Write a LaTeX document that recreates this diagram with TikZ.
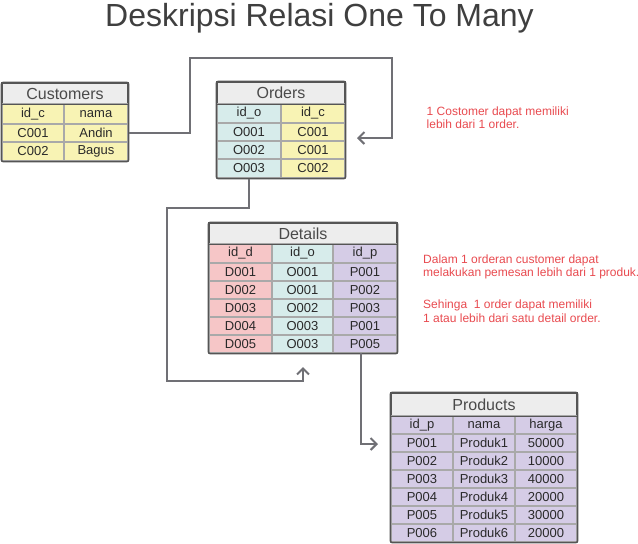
\documentclass[tikz,border=0pt]{standalone}
\usepackage{fontspec}
\setmainfont{Liberation Sans}
\usetikzlibrary{arrows.meta,calc}
\definecolor{yel}{HTML}{F8F3B4}
\definecolor{blu}{HTML}{D7ECEB}
\definecolor{pnk}{HTML}{F6C6C7}
\definecolor{pur}{HTML}{D5CCE6}
\definecolor{ttl}{HTML}{EDEDED}
\definecolor{inln}{HTML}{A9A9A9}
\definecolor{outln}{HTML}{555555}
\definecolor{conn}{HTML}{707075}
\definecolor{note}{HTML}{E84A4F}
\definecolor{txt}{HTML}{2A2A2A}
\newcommand\tcell[7]{%
  \pgfmathsetmacro\tcX{(#2+#4)/2}\pgfmathsetmacro\tcY{(#3+#5)/2}%
  \pgfmathsetmacro\tcW{#4-#2}\pgfmathsetmacro\tcH{#5-#3}%
  \node[cell,fill=#6,minimum width=\tcW pt,minimum height=\tcH pt] (#1) at (\tcX,\tcY) {#7};}
\newcommand\ttitle[6]{%
  \pgfmathsetmacro\tcX{(#2+#4)/2}\pgfmathsetmacro\tcY{(#3+#5)/2}%
  \pgfmathsetmacro\tcW{#4-#2}\pgfmathsetmacro\tcH{#5-#3}%
  \node[ttlcell,minimum width=\tcW pt,minimum height=\tcH pt] (#1) at (\tcX,\tcY) {#6};}
\tikzset{
  cell/.style={draw=inln,line width=1.3pt,inner sep=0pt,text=txt,font=\fontsize{13}{14}\selectfont},
  ttlcell/.style={draw=outln,fill=ttl,line width=1.3pt,inner sep=0pt,text=txt!85,font=\fontsize{16}{18}\selectfont},
  outer/.style={draw=outln,line width=1.5pt,rounded corners=2pt},
  conn/.style={draw=conn,line width=2pt,-{Straight Barb[length=6pt,width=12pt]}},
  notetxt/.style={anchor=base west,inner sep=0pt,text=note,font=\fontsize{12}{13}\selectfont},
}
\begin{document}
\begin{tikzpicture}[x=1pt,y=-1pt]
\useasboundingbox (0,0) rectangle (638,544);
% main title
\node[anchor=base,inner sep=0pt,text=txt!90,font=\fontsize{32}{36}\selectfont] (maintitle) at (319.5,26.5) {Deskripsi Relasi One To Many};
% Customers
\ttitle{cT}{2}{83}{128}{104}{Customers}
\tcell{c01}{2}{104}{64}{124}{yel}{id\_c}
\tcell{c02}{64}{104}{128}{124}{yel}{nama}
\tcell{c11}{2}{124}{64}{142}{yel}{C001}
\tcell{c12}{64}{124}{128}{142}{yel}{Andin}
\tcell{c21}{2}{142}{64}{161}{yel}{C002}
\tcell{c22}{64}{142}{128}{161}{yel}{Bagus}
\draw[outer] (cT.north west) rectangle (c22.south east);
\draw[draw=outln,line width=1.5pt] (cT.south west) -- (cT.south east);
% Orders
\ttitle{oT}{217}{82}{345}{104}{Orders}
\tcell{o01}{217}{104}{281}{123}{blu}{id\_o}
\tcell{o02}{281}{104}{345}{123}{yel}{id\_c}
\tcell{o11}{217}{123}{281}{141}{blu}{O001}
\tcell{o12}{281}{123}{345}{141}{yel}{C001}
\tcell{o21}{217}{141}{281}{159}{blu}{O002}
\tcell{o22}{281}{141}{345}{159}{yel}{C001}
\tcell{o31}{217}{159}{281}{178}{blu}{O003}
\tcell{o32}{281}{159}{345}{178}{yel}{C002}
\draw[outer] (oT.north west) rectangle (o32.south east);
\draw[draw=outln,line width=1.5pt] (oT.south west) -- (oT.south east);
% Details
\ttitle{dT}{209}{223}{397}{244}{Details}
\tcell{d01}{209}{244}{272}{263}{pnk}{id\_d}
\tcell{d02}{272}{244}{333}{263}{blu}{id\_o}
\tcell{d03}{333}{244}{397}{263}{pur}{id\_p}
\tcell{d11}{209}{263}{272}{281}{pnk}{D001}
\tcell{d12}{272}{263}{333}{281}{blu}{O001}
\tcell{d13}{333}{263}{397}{281}{pur}{P001}
\tcell{d21}{209}{281}{272}{299}{pnk}{D002}
\tcell{d22}{272}{281}{333}{299}{blu}{O001}
\tcell{d23}{333}{281}{397}{299}{pur}{P002}
\tcell{d31}{209}{299}{272}{317}{pnk}{D003}
\tcell{d32}{272}{299}{333}{317}{blu}{O002}
\tcell{d33}{333}{299}{397}{317}{pur}{P003}
\tcell{d41}{209}{317}{272}{335}{pnk}{D004}
\tcell{d42}{272}{317}{333}{335}{blu}{O003}
\tcell{d43}{333}{317}{397}{335}{pur}{P001}
\tcell{d51}{209}{335}{272}{353}{pnk}{D005}
\tcell{d52}{272}{335}{333}{353}{blu}{O003}
\tcell{d53}{333}{335}{397}{353}{pur}{P005}
\draw[outer] (dT.north west) rectangle (d53.south east);
\draw[draw=outln,line width=1.5pt] (dT.south west) -- (dT.south east);
% Products
\ttitle{pT}{391}{393}{577}{416}{Products}
\tcell{p01}{391}{416}{453}{434}{pur}{id\_p}
\tcell{p02}{453}{416}{515}{434}{pur}{nama}
\tcell{p03}{515}{416}{577}{434}{pur}{harga}
\tcell{p11}{391}{434}{453}{452}{pur}{P001}
\tcell{p12}{453}{434}{515}{452}{pur}{Produk1}
\tcell{p13}{515}{434}{577}{452}{pur}{50000}
\tcell{p21}{391}{452}{453}{470}{pur}{P002}
\tcell{p22}{453}{452}{515}{470}{pur}{Produk2}
\tcell{p23}{515}{452}{577}{470}{pur}{10000}
\tcell{p31}{391}{470}{453}{488}{pur}{P003}
\tcell{p32}{453}{470}{515}{488}{pur}{Produk3}
\tcell{p33}{515}{470}{577}{488}{pur}{40000}
\tcell{p41}{391}{488}{453}{506}{pur}{P004}
\tcell{p42}{453}{488}{515}{506}{pur}{Produk4}
\tcell{p43}{515}{488}{577}{506}{pur}{20000}
\tcell{p51}{391}{506}{453}{524}{pur}{P005}
\tcell{p52}{453}{506}{515}{524}{pur}{Produk5}
\tcell{p53}{515}{506}{577}{524}{pur}{30000}
\tcell{p61}{391}{524}{453}{542}{pur}{P006}
\tcell{p62}{453}{524}{515}{542}{pur}{Produk6}
\tcell{p63}{515}{524}{577}{542}{pur}{20000}
\draw[outer] (pT.north west) rectangle (p63.south east);
\draw[draw=outln,line width=1.5pt] (pT.south west) -- (pT.south east);
% connector end points
\coordinate (tipO) at (357,138);
\coordinate (tipD) at (303,367);
\coordinate (tipP) at (378,444);
% connectors
\draw[conn] (c12.east) -| (190,58) -| (392,138) -- (tipO);
\draw[conn] (o31.south) -- (249,208) -| (167,381) -| (tipD);
\draw[conn] (361,353) |- (tipP);
% notes
\node[notetxt] (n1a) at (426.5,115) {1 Costomer dapat memiliki};
\node[notetxt] (n1b) at (426.5,128) {lebih dari 1 order.};
\node[notetxt] (n2a) at (423,263) {Dalam 1 orderan customer dapat};
\node[notetxt] (n2b) at (423,276.5) {melakukan pemesan lebih dari 1 produk.};
\node[notetxt] (n3a) at (423,308.5) {Sehinga\ \ 1 order dapat memiliki};
\node[notetxt] (n3b) at (423,322.5) {1 atau lebih dari satu detail order.};
\end{tikzpicture}
\end{document}
